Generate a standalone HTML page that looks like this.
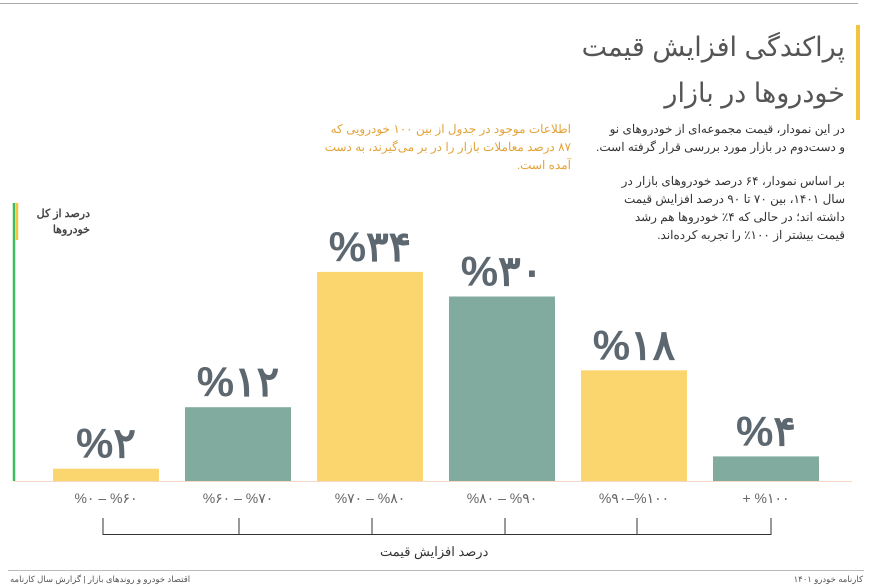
<!DOCTYPE html>
<html><head><meta charset="utf-8">
<style>
html,body{margin:0;padding:0;background:#fff;width:871px;height:587px;overflow:hidden}
body{position:relative;font-family:"Liberation Sans","Noto Sans CJK SC",sans-serif}
.t{position:absolute;direction:rtl;text-align:right;white-space:nowrap}
</style></head><body>
<div style="position:absolute;left:0;top:3px;width:858px;height:1px;background:#aaa"></div>
<div style="position:absolute;left:856px;top:25px;width:4px;height:95px;background:#f3c53f"></div>
<div class="t" style="right:26px;top:24px;font-size:27px;line-height:46px;color:#555">پراکندگی افزایش قیمت<br>خودروها در بازار</div>
<div class="t" style="right:26px;top:120px;font-size:12px;line-height:18px;color:#333">در این نمودار، قیمت مجموعه‌ای از خودروهای نو<br>و دست‌دوم در بازار مورد بررسی قرار گرفته است.</div>
<div class="t" style="right:26px;top:172px;font-size:12px;line-height:18px;color:#333">بر اساس نمودار، ۶۴ درصد خودروهای بازار در<br>سال ۱۴۰۱، بین ۷۰ تا ۹۰ درصد افزایش قیمت<br>داشته اند؛ در حالی که ۴٪ خودروها هم رشد<br>قیمت بیشتر از ۱۰۰٪ را تجربه کرده‌اند.</div>
<div class="t" style="right:300px;top:120px;font-size:12px;line-height:18px;color:#e3a33a">اطلاعات موجود در جدول از بین ۱۰۰ خودرویی که<br>۸۷ درصد معاملات بازار را در بر می‌گیرند، به دست<br>آمده است.</div>
<div class="t" style="right:781px;top:206px;font-size:11px;line-height:16px;color:#444;font-weight:bold">درصد از کل<br>خودروها</div>
<div class="t" style="left:380px;top:544px;font-size:13px;color:#333">درصد افزایش قیمت</div>
<div style="position:absolute;left:8px;top:570px;width:856px;height:1px;background:#bbb"></div>
<div class="t" style="left:10px;top:574px;font-size:8.5px;color:#555">اقتصاد خودرو و روندهای بازار | گزارش سال کارنامه</div>
<div class="t" style="right:8px;top:574px;font-size:8.5px;color:#555">کارنامه خودرو ۱۴۰۱</div>
<svg id="chart" width="871" height="587" style="position:absolute;left:0;top:0"></svg>
<script>
const categories=["%۰ – %۶۰","%۶۰ – %۷۰","%۷۰ – %۸۰","%۸۰ – %۹۰","%۹۰–%۱۰۰","+ %۱۰۰"];
const values=[2,12,34,30,18,4];
const valueLabels=["%۲","%۱۲","%۳۴","%۳۰","%۱۸","%۴"];
const colors=["#fbd56e","#82ab9f","#fbd56e","#82ab9f","#fbd56e","#82ab9f"];
const NS="http://www.w3.org/2000/svg";
const svg=document.getElementById('chart');
const baseY=481,pxPer=6.15,x0=53,step=132,bw=106;
function xPos(i){return x0+i*step;}
function yPos(v){return baseY-v*pxPer;}
function mk(tag,a){const e=document.createElementNS(NS,tag);for(const k in a)e.setAttribute(k,a[k]);svg.appendChild(e);return e;}
let e=mk('line',{x1:14,y1:203,x2:14,y2:481,stroke:'#3dbb5e','stroke-width':2.5});


e=mk('line',{x1:17,y1:203,x2:17,y2:240,stroke:'#f3c53f','stroke-width':2.5});


e=mk('line',{x1:14,y1:481.5,x2:852,y2:481.5,stroke:'#f6d9c4','stroke-width':1});


values.forEach((v,i)=>{
  const r=mk('rect',{x:xPos(i),y:yPos(v),width:bw,height:baseY-yPos(v),fill:colors[i]});
  
  
  const t=mk('text',{x:xPos(i)+bw/2,y:yPos(v)-11,'text-anchor':'middle','font-size':42,'font-weight':'bold',fill:'#5d6770','font-family':'Liberation Sans, Noto Sans CJK SC, sans-serif'});
  t.textContent=valueLabels[i];
  
  
  const c=mk('text',{x:xPos(i)+bw/2,y:503,'text-anchor':'middle','font-size':14,fill:'#666','font-family':'Liberation Sans, Noto Sans CJK SC, sans-serif'});
  c.textContent=categories[i];
  
  
});
const bl=xPos(0)+bw/2-3,br=xPos(categories.length-1)+bw/2+5;
e=mk('line',{x1:bl,y1:534.5,x2:br,y2:534.5,stroke:'#333','stroke-width':1});


[bl,239,372,505,637,br].forEach((x,i)=>{
  const t=mk('line',{x1:x,y1:518,x2:x,y2:535,stroke:'#333','stroke-width':1});
  
  
});
</script>
</body></html>
